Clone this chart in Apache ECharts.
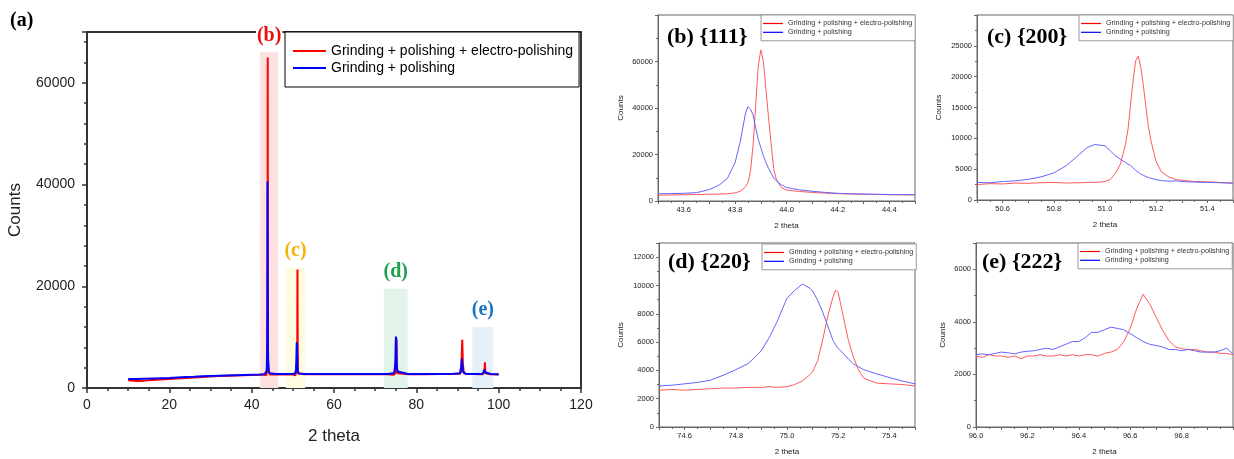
<!DOCTYPE html>
<html>
<head>
<meta charset="utf-8">
<title>XRD patterns</title>
<script src="https://cdn.jsdelivr.net/npm/echarts@6/dist/echarts.min.js"></script>
<style>
html, body { margin: 0; padding: 0; background: #fff; }
#chart { width: 1234px; height: 459px; }
</style>
</head>
<body>
<div id="chart"></div>
<script>
const NAME_EP = 'Grinding + polishing + electro-polishing'
const NAME_P = 'Grinding + polishing'

// (a) full scan, background + the 91 deg peak (the other peaks come from the detail arrays)
const ovTheta = [10, 12, 14, 16, 18, 20, 22, 24, 26, 28, 30, 32, 34, 36, 38, 40, 42, 43, 46, 48, 50, 53, 56, 60, 65, 70, 73, 78, 82, 86, 89, 90.6, 90.9, 91.05, 91.15, 91.3, 91.5, 92, 94, 95.5, 98, 100]
const ovRed = [1500, 1400, 1450, 1550, 1650, 1750, 1850, 1950, 2050, 2150, 2250, 2350, 2400, 2450, 2500, 2550, 2600, 2650, 2650, 2650, 2650, 2700, 2700, 2700, 2700, 2700, 2700, 2700, 2700, 2750, 2750, 2800, 3200, 7000, 9500, 5000, 3100, 2800, 2750, 2700, 2700, 2650]
const ovBlue = [1750, 1750, 1800, 1850, 1900, 1950, 2050, 2150, 2200, 2300, 2350, 2400, 2450, 2500, 2550, 2600, 2650, 2700, 2750, 2750, 2750, 2750, 2750, 2750, 2750, 2750, 2750, 2750, 2750, 2750, 2800, 2900, 4200, 5800, 4800, 3600, 3000, 2800, 2750, 2750, 2750, 2700]

// (b) {111}
const bTheta = [43.50, 43.55, 43.60, 43.65, 43.70, 43.74, 43.77, 43.80, 43.82, 43.84, 43.85, 43.86, 43.87, 43.88, 43.89, 43.90, 43.91, 43.92, 43.93, 43.94, 43.95, 43.96, 43.97, 43.98, 44.00, 44.05, 44.10, 44.15, 44.20, 44.25, 44.30, 44.35, 44.40, 44.45, 44.50]
const bRed = [2500, 2600, 2700, 2800, 2900, 3000, 3100, 3500, 4200, 6000, 8000, 13000, 24000, 41000, 58000, 65000, 60000, 48000, 36000, 25000, 14000, 9500, 7500, 5800, 4700, 4100, 3700, 3400, 3150, 3000, 2900, 2800, 2700, 2650, 2600]
const bBlue = [3100, 3200, 3300, 3600, 4900, 7000, 9700, 16500, 25500, 37500, 40600, 39500, 37000, 31500, 26500, 23000, 19500, 16500, 14000, 12000, 10000, 8700, 7700, 7000, 5800, 4800, 4200, 3700, 3300, 3100, 3000, 2900, 2800, 2750, 2700]

// (c) {200}
const cTheta = [50.50, 50.55, 50.60, 50.65, 50.70, 50.75, 50.80, 50.85, 50.90, 50.93, 50.96, 51.00, 51.02, 51.04, 51.06, 51.08, 51.09, 51.10, 51.11, 51.12, 51.13, 51.14, 51.15, 51.16, 51.17, 51.18, 51.20, 51.22, 51.25, 51.28, 51.30, 51.35, 51.40, 51.45, 51.50]
const cRed = [2500, 2650, 2600, 2750, 2700, 2800, 2850, 2750, 2800, 2850, 2850, 3000, 3300, 4300, 5800, 9000, 11500, 15500, 19500, 22600, 23300, 21500, 18500, 15000, 11800, 9500, 6200, 4600, 3700, 3300, 3200, 3000, 2950, 2850, 2750]
const cBlue = [2850, 2800, 3000, 3100, 3350, 3750, 4400, 5600, 7400, 8500, 9000, 8800, 8000, 7200, 6600, 6100, 5800, 5600, 5200, 4800, 4500, 4200, 4000, 3800, 3650, 3500, 3300, 3150, 3050, 3100, 3000, 2900, 2850, 2800, 2700]

// (d) {220}
const dTheta = [74.50, 74.55, 74.60, 74.65, 74.70, 74.75, 74.80, 74.85, 74.90, 74.93, 74.96, 75.00, 75.03, 75.06, 75.09, 75.10, 75.12, 75.14, 75.16, 75.18, 75.19, 75.20, 75.22, 75.24, 75.26, 75.28, 75.30, 75.35, 75.40, 75.45, 75.50]
const dRed = [2600, 2650, 2600, 2650, 2700, 2750, 2750, 2800, 2800, 2850, 2800, 2850, 3000, 3250, 3700, 3900, 4700, 6200, 7900, 9200, 9650, 9500, 7800, 6100, 4900, 4000, 3450, 3100, 3050, 3000, 2900]
const dBlue = [2900, 2950, 3050, 3150, 3300, 3650, 4050, 4500, 5400, 6300, 7400, 9100, 9650, 10100, 9800, 9600, 8950, 8100, 7100, 6100, 5800, 5550, 5200, 4800, 4450, 4250, 4050, 3750, 3500, 3250, 3050]

// (e) {222}
const eTheta = [96.000, 96.025, 96.050, 96.075, 96.100, 96.125, 96.150, 96.175, 96.200, 96.225, 96.250, 96.275, 96.300, 96.325, 96.350, 96.375, 96.400, 96.425, 96.450, 96.475, 96.500, 96.525, 96.550, 96.575, 96.600, 96.625, 96.650, 96.675, 96.700, 96.725, 96.750, 96.775, 96.800, 96.825, 96.850, 96.875, 96.900, 96.925, 96.950, 96.975, 97.000]
const eRed = [2700, 2650, 2750, 2700, 2700, 2650, 2700, 2600, 2700, 2700, 2750, 2700, 2700, 2750, 2700, 2750, 2700, 2750, 2750, 2700, 2800, 2850, 2950, 3250, 3750, 4500, 5050, 4700, 4200, 3700, 3300, 3050, 2980, 2950, 2950, 2900, 2850, 2850, 2800, 2800, 2750]
const eBlue = [2750, 2780, 2750, 2800, 2850, 2820, 2780, 2850, 2880, 2900, 2950, 3000, 2950, 3050, 3150, 3250, 3250, 3400, 3600, 3600, 3700, 3800, 3750, 3700, 3550, 3400, 3250, 3150, 3100, 3050, 2950, 2950, 2900, 2950, 2900, 2850, 2850, 2850, 2900, 3000, 2780]

function pairs (xs, ys) {
  return xs.map((x, i) => [x, ys[i]])
}
function merged (list) {
  let out = []
  list.forEach(p => { out = out.concat(pairs(p[0], p[1])) })
  return out.sort((a, b) => a[0] - b[0])
}

const RED = '#ff0000'
const BLUE = '#0000ff'
const RED_L = '#ff5a5a'
const BLUE_L = '#6464ff'
const SANS = 'Liberation Sans'
const SERIF = 'Liberation Serif'

function smallX (g, min, max) {
  return {
    type: 'value', gridIndex: g, min: min, max: max, interval: 0.1,
    name: '2 theta', nameLocation: 'middle', nameGap: 21,
    nameTextStyle: { fontSize: 8, color: '#222', fontFamily: SANS },
    axisLine: { onZero: false, lineStyle: { color: '#666', width: 1 } },
    axisTick: { length: 3, lineStyle: { color: '#666' } },
    minorTick: { show: true, splitNumber: 2, length: 2, lineStyle: { color: '#666' } },
    axisLabel: {
      fontSize: 7.5, color: '#222', fontFamily: SANS, margin: 5, showMaxLabel: false,
      formatter: v => (Math.round(v * 10) % 2 === 0 ? v.toFixed(1) : '')
    },
    splitLine: { show: false }
  }
}
function smallY (g, max, interval, gap) {
  return {
    type: 'value', gridIndex: g, min: 0, max: max, interval: interval,
    name: 'Counts', nameLocation: 'middle', nameGap: gap,
    nameTextStyle: { fontSize: 8, color: '#222', fontFamily: SANS },
    axisLine: { onZero: false, lineStyle: { color: '#666', width: 1 } },
    axisTick: { length: 3, lineStyle: { color: '#666' } },
    minorTick: { show: true, splitNumber: 2, length: 2, lineStyle: { color: '#666' } },
    axisLabel: { fontSize: 7.5, color: '#222', fontFamily: SANS, margin: 5, showMaxLabel: false, formatter: v => String(v) },
    splitLine: { show: false }
  }
}
function smallLegend (left, top) {
  return {
    orient: 'vertical', left: left, top: top, data: [NAME_EP, NAME_P],
    padding: [5, 3, 5, 2], icon: 'rect', itemWidth: 20, itemHeight: 1.2, itemGap: 1.8,
    borderColor: '#999', borderWidth: 1, backgroundColor: '#fff',
    textStyle: { fontSize: 7.2, color: '#333', fontFamily: SANS }
  }
}
function smallSeries (g, xs, red, blue) {
  return [
    { name: NAME_EP, type: 'line', xAxisIndex: g, yAxisIndex: g, data: pairs(xs, red), symbol: 'none', lineStyle: { color: RED_L, width: 1 }, itemStyle: { color: RED_L } },
    { name: NAME_P, type: 'line', xAxisIndex: g, yAxisIndex: g, data: pairs(xs, blue), symbol: 'none', lineStyle: { color: BLUE_L, width: 1 }, itemStyle: { color: BLUE_L } }
  ]
}
function area (name, color, x0, x1, top, textColor) {
  return [
    { name: name, xAxis: x0, yAxis: -1000, itemStyle: { color: color },
      label: { show: true, position: 'top', distance: 7, color: textColor, fontSize: 20, fontWeight: 'bold', fontFamily: SERIF, backgroundColor: '#fff', padding: [0, 1] } },
    { xAxis: x1, yAxis: top }
  ]
}
function panelTitle (text, left, top, size) {
  return { text: text, left: left, top: top, padding: 0,
    textStyle: { fontSize: size, fontWeight: 'bold', fontFamily: SERIF, color: '#000' } }
}

const overviewRed = merged([[ovTheta, ovRed], [bTheta, bRed], [cTheta, cRed], [dTheta, dRed], [eTheta, eRed]])
const overviewBlue = merged([[ovTheta, ovBlue], [bTheta, bBlue], [cTheta, cBlue], [dTheta, dBlue], [eTheta, eBlue]])

const option = {
  animation: false,
  backgroundColor: '#fff',
  title: [
    panelTitle('(a)', 10, 11, 20),
    panelTitle('(b) {111}', 667, 26, 22),
    panelTitle('(c) {200}', 987, 26, 22),
    panelTitle('(d) {220}', 668, 251, 22),
    panelTitle('(e) {222}', 982, 251, 22)
  ],
  grid: [
    { left: 87, top: 32, width: 494, height: 356, show: true, borderColor: '#333', borderWidth: 2 },
    { left: 658, top: 15, width: 257, height: 186, show: true, borderColor: '#666', borderWidth: 1 },
    { left: 977, top: 15, width: 256, height: 185, show: true, borderColor: '#666', borderWidth: 1 },
    { left: 659, top: 243, width: 256, height: 184, show: true, borderColor: '#666', borderWidth: 1 },
    { left: 976, top: 243, width: 257, height: 184, show: true, borderColor: '#666', borderWidth: 1 }
  ],
  legend: [
    {
      orient: 'vertical', left: 285, top: 32, data: [NAME_EP, NAME_P],
      padding: [12, 6, 12, 8], icon: 'rect', itemWidth: 33, itemHeight: 2, itemGap: 3,
      borderColor: '#000', borderWidth: 1, backgroundColor: '#fff',
      textStyle: { fontSize: 14, color: '#000', fontFamily: SANS }
    },
    smallLegend(761, 15),
    smallLegend(1079, 15),
    smallLegend(762, 244),
    smallLegend(1078, 243)
  ],
  xAxis: [
    {
      type: 'value', gridIndex: 0, min: 0, max: 120, interval: 20,
      name: '2 theta', nameLocation: 'middle', nameGap: 40,
      nameTextStyle: { fontSize: 17, color: '#222', fontFamily: SANS },
      axisLine: { onZero: false, lineStyle: { color: '#333', width: 2 } },
      axisTick: { length: 5, lineStyle: { color: '#333', width: 1.5 } },
      minorTick: { show: true, splitNumber: 4, length: 3, lineStyle: { color: '#333', width: 1.5 } },
      axisLabel: { fontSize: 14, color: '#222', fontFamily: SANS, margin: 10 },
      splitLine: { show: false }
    },
    smallX(1, 43.5, 44.5),
    smallX(2, 50.5, 51.5),
    smallX(3, 74.5, 75.5),
    smallX(4, 96, 97)
  ],
  yAxis: [
    {
      type: 'value', gridIndex: 0, min: 0, max: 70000, interval: 20000,
      name: 'Counts', nameLocation: 'middle', nameGap: 63,
      nameTextStyle: { fontSize: 17, color: '#222', fontFamily: SANS },
      axisLine: { onZero: false, lineStyle: { color: '#333', width: 2 } },
      axisTick: { length: 5, lineStyle: { color: '#333', width: 1.5 } },
      minorTick: { show: true, splitNumber: 5, length: 3, lineStyle: { color: '#333', width: 1.5 } },
      axisLabel: { fontSize: 14, color: '#222', fontFamily: SANS, margin: 12, showMaxLabel: false, formatter: v => String(v) },
      splitLine: { show: false }
    },
    smallY(1, 80000, 20000, 33),
    smallY(2, 30000, 5000, 34),
    smallY(3, 13000, 2000, 34),
    smallY(4, 7000, 2000, 29)
  ],
  series: [
    {
      name: NAME_EP, type: 'line', xAxisIndex: 0, yAxisIndex: 0, data: overviewRed,
      symbol: 'none', lineStyle: { color: RED, width: 2 }, itemStyle: { color: RED },
      markArea: {
        silent: true,
        data: [
          area('(b)', '#fde1e1', 42, 46.5, 66000, '#e81010'),
          area('(c)', '#fefbdf', 48.3, 53.0, 23600, '#f5b400'),
          area('(d)', '#e2f4e9', 72.1, 77.9, 19500, '#1fa04e'),
          area('(e)', '#e6f0fa', 93.6, 98.7, 12000, '#1a74c2')
        ]
      }
    },
    {
      name: NAME_P, type: 'line', xAxisIndex: 0, yAxisIndex: 0, data: overviewBlue,
      symbol: 'none', lineStyle: { color: BLUE, width: 2 }, itemStyle: { color: BLUE }
    }
  ]
    .concat(smallSeries(1, bTheta, bRed, bBlue))
    .concat(smallSeries(2, cTheta, cRed, cBlue))
    .concat(smallSeries(3, dTheta, dRed, dBlue))
    .concat(smallSeries(4, eTheta, eRed, eBlue))
}

const chart = echarts.init(document.getElementById('chart'))
chart.setOption(option)
</script>
</body>
</html>
